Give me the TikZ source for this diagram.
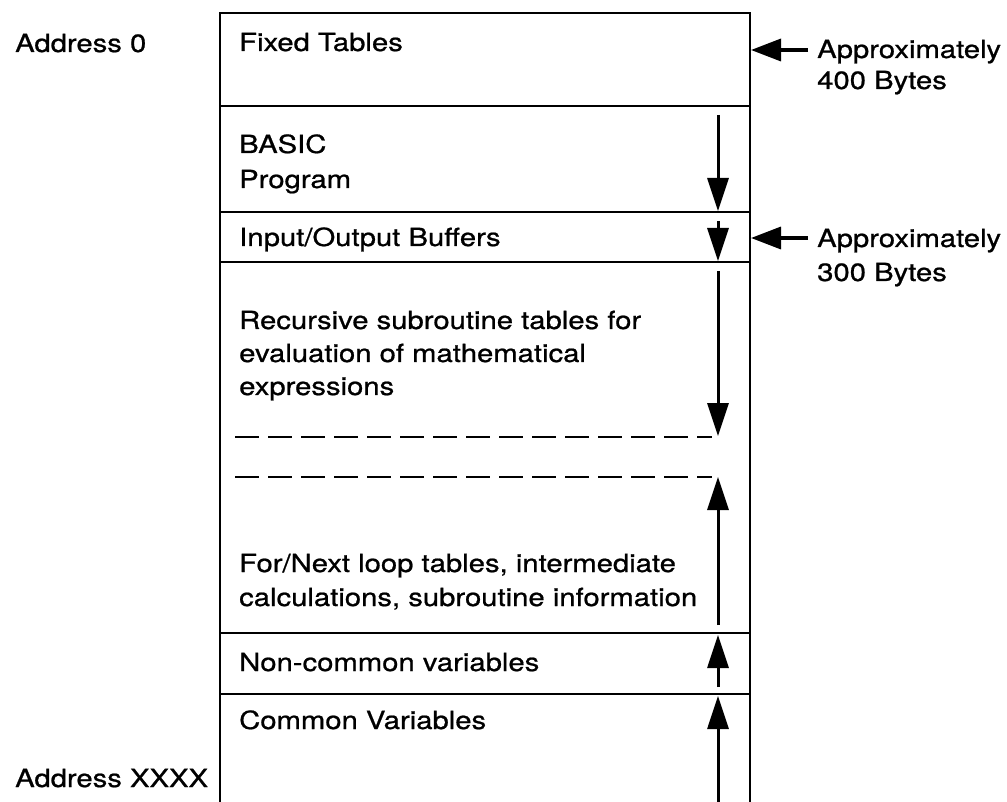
\documentclass[tikz,border=0pt]{standalone}
\usepackage{fontspec}
\setmainfont[FakeStretch=1.17,FakeBold=0.8]{TeX Gyre Heros}
\usetikzlibrary{arrows.meta}
\begin{document}
\begin{tikzpicture}[x=1pt,y=-1pt,
  lbl/.style={anchor=base west, inner sep=0pt, font=\fontsize{25}{30}\selectfont},
  wall/.style={line width=2pt, line cap=rect},
  growarrow/.style={line width=3pt, -{Triangle[length=33pt,width=21pt]}},
  sizearrow/.style={line width=3.5pt, -{Triangle[length=30pt,width=22pt]}},
  limitline/.style={line width=2pt, dash pattern=on 24pt off 9pt}]
\useasboundingbox (0,0) rectangle (1007,802);
% memory frame
\coordinate (tl) at (220,13);
\coordinate (tr) at (750,13);
\coordinate (bl) at (220,802);
\coordinate (br) at (750,802);
\draw[wall] (bl) -- (tl) -- (tr) -- (br);
\foreach \yy/\nm in {106/h1,212/h2,262/h3,633/h4,694/h5}{
  \coordinate (\nm l) at (220,\yy);
  \coordinate (\nm r) at (750,\yy);
  \draw[wall] (\nm l) -- (\nm r);
}
% region texts
\node[lbl] (fixed) at (239,51) {Fixed Tables};
\node[lbl] (basic) at (239,153) {BASIC};
\node[lbl] (prog) at (239,188) {Program};
\node[lbl] (io) at (239,246) {Input/Output Buffers};
\node[lbl] (rec1) at (239,329) {Recursive subroutine tables for};
\node[lbl] (rec2) at (239,362) {evaluation of mathematical};
\node[lbl] (rec3) at (239,395) {expressions};
\node[lbl] (for1) at (239,572) {For/Next loop tables, intermediate};
\node[lbl] (for2) at (239,606) {calculations, subroutine information};
\node[lbl] (nonc) at (239,671) {Non-common variables};
\node[lbl] (comm) at (239,729) {Common Variables};
% addresses
\node[lbl] (a0) at (15,52) {Address 0};
\node[lbl] (ax) at (15,787) {Address XXXX};
% sizes
\node[lbl] (ap1) at (817,58) {Approximately};
\node[lbl] (b400) at (817,89) {400 Bytes};
\node[lbl] (ap2) at (817,247) {Approximately};
\node[lbl] (b300) at (817,281) {300 Bytes};
\coordinate (p1s) at (808,50);
\coordinate (p1e) at (751,50);
\coordinate (p2s) at (808,238);
\coordinate (p2e) at (751,238);
\draw[sizearrow] (p1s) -- (p1e);
\draw[sizearrow] (p2s) -- (p2e);
% growth arrows
\coordinate (g1s) at (718,115); \coordinate (g1e) at (718,211);
\coordinate (g2s) at (718,221); \coordinate (g2e) at (718,261);
\coordinate (g3s) at (718,271); \coordinate (g3e) at (718,436);
\coordinate (g4s) at (718,625); \coordinate (g4e) at (718,477);
\coordinate (g5s) at (718,687); \coordinate (g5e) at (718,635);
\coordinate (g6s) at (718,802); \coordinate (g6e) at (718,696);
\draw[growarrow] (g1s) -- (g1e);
\draw[growarrow] (g2s) -- (g2e);
\draw[growarrow] (g3s) -- (g3e);
\draw[growarrow] (g4s) -- (g4e);
\draw[growarrow] (g5s) -- (g5e);
\draw[growarrow] (g6s) -- (g6e);
% stack limits
\coordinate (d1s) at (235,437); \coordinate (d1e) at (712,437);
\coordinate (d2s) at (235,477); \coordinate (d2e) at (712,477);
\draw[limitline] (d1s) -- (d1e);
\draw[limitline] (d2s) -- (d2e);
\end{tikzpicture}
\end{document}
